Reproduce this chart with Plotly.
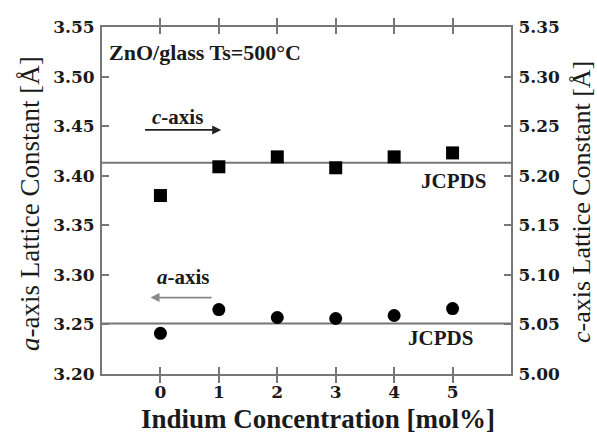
import plotly.graph_objects as go

conc = [0, 1, 2, 3, 4, 5]
a_axis = [3.241, 3.265, 3.257, 3.256, 3.259, 3.266]
c_axis = [5.180, 5.209, 5.219, 5.208, 5.219, 5.223]
a_jcpds = 3.251
c_jcpds = 5.213
x_ticks = [0, 1, 2, 3, 4, 5]
y1_ticks = [3.20, 3.25, 3.30, 3.35, 3.40, 3.45, 3.50, 3.55]
y2_ticks = [5.00, 5.05, 5.10, 5.15, 5.20, 5.25, 5.30, 5.35]

SERIF = "Liberation Serif"
BSERIF = "DejaVu Serif"
TXT = "#1a1a1a"
AX = "#777777"

def b(s):
    return "<b>" + s + "</b>"

fig = go.Figure()

fig.add_trace(go.Scatter(x=[-1, 6], y=[a_jcpds, a_jcpds], mode="lines",
                         line=dict(color=AX, width=2), showlegend=False, hoverinfo="skip"))
fig.add_trace(go.Scatter(x=[-1, 6], y=[c_jcpds, c_jcpds], mode="lines", yaxis="y2",
                         line=dict(color=AX, width=2), showlegend=False, hoverinfo="skip"))
fig.add_trace(go.Scatter(x=conc, y=a_axis, mode="markers",
                         marker=dict(symbol="circle", size=13, color="black"), showlegend=False))
fig.add_trace(go.Scatter(x=conc, y=c_axis, mode="markers", yaxis="y2",
                         marker=dict(symbol="square", size=13, color="black"), showlegend=False))

tickfont = dict(family=BSERIF, size=17, color=TXT, weight="bold")
common = dict(ticks="inside", ticklen=7, tickwidth=1.5, tickcolor=AX, showline=True,
              linecolor=AX, linewidth=2, showgrid=False, zeroline=False,
              tickfont=tickfont, automargin=False, ticklabelstandoff=2)

fig.update_layout(
    width=597, height=435,
    margin=dict(l=102, r=86, t=27, b=61),
    paper_bgcolor="white", plot_bgcolor="white",
    xaxis=dict(range=[-1, 6], tickvals=x_ticks, mirror="allticks", **common),
    yaxis=dict(range=[3.20, 3.55], tickvals=y1_ticks, tickformat=".2f", **common),
    yaxis2=dict(range=[5.00, 5.35], tickvals=y2_ticks, tickformat=".2f",
                overlaying="y", side="right", **common),
)

# axis titles
fig.add_annotation(x=0.528, y=-0.13, xref="paper", yref="paper", xanchor="center",
                   yanchor="middle", text=b("Indium Concentration [mol%]"), showarrow=False,
                   font=dict(family=SERIF, size=27, color=TXT))
fig.add_annotation(x=-0.176, y=0.49, xref="paper", yref="paper", textangle=-90,
                   xanchor="center", yanchor="middle",
                   text="<i>a</i>-axis Lattice Constant [Å]", showarrow=False,
                   font=dict(family=SERIF, size=27, color=TXT))
fig.add_annotation(x=1.174, y=0.496, xref="paper", yref="paper", textangle=-90,
                   xanchor="center", yanchor="middle",
                   text="<i>c</i>-axis Lattice Constant [Å]", showarrow=False,
                   font=dict(family=SERIF, size=26, color=TXT))

ann_font = dict(family=SERIF, size=21, color=TXT)
fig.add_annotation(x=-0.92, y=3.524, xref="x", yref="y", text=b("ZnO/glass Ts=500°C"),
                   showarrow=False, xanchor="left", yanchor="middle",
                   font=dict(family=SERIF, size=22, color=TXT))
fig.add_annotation(x=0.29, y=3.459, xref="x", yref="y", text="<b><i>c</i>-axis</b>",
                   showarrow=False, xanchor="center", yanchor="middle", font=ann_font)
fig.add_annotation(x=0.39, y=3.298, xref="x", yref="y", text="<b><i>a</i>-axis</b>",
                   showarrow=False, xanchor="center", yanchor="middle", font=ann_font)
fig.add_annotation(x=5.02, y=3.395, xref="x", yref="y", text=b("JCPDS"),
                   showarrow=False, xanchor="center", yanchor="middle", font=ann_font)
fig.add_annotation(x=4.80, y=3.2365, xref="x", yref="y", text=b("JCPDS"),
                   showarrow=False, xanchor="center", yanchor="middle", font=ann_font)
# arrows
fig.add_annotation(x=1.04, y=3.4462, ax=-0.29, ay=3.4462, xref="x", yref="y",
                   axref="x", ayref="y", text="", showarrow=True, arrowhead=2,
                   arrowsize=1, arrowwidth=1.8, arrowcolor="#222222")
fig.add_annotation(x=-0.17, y=3.2771, ax=0.90, ay=3.2771, xref="x", yref="y",
                   axref="x", ayref="y", text="", showarrow=True, arrowhead=2,
                   arrowsize=1, arrowwidth=1.8, arrowcolor="#888888")

fig.write_html("out.html")
